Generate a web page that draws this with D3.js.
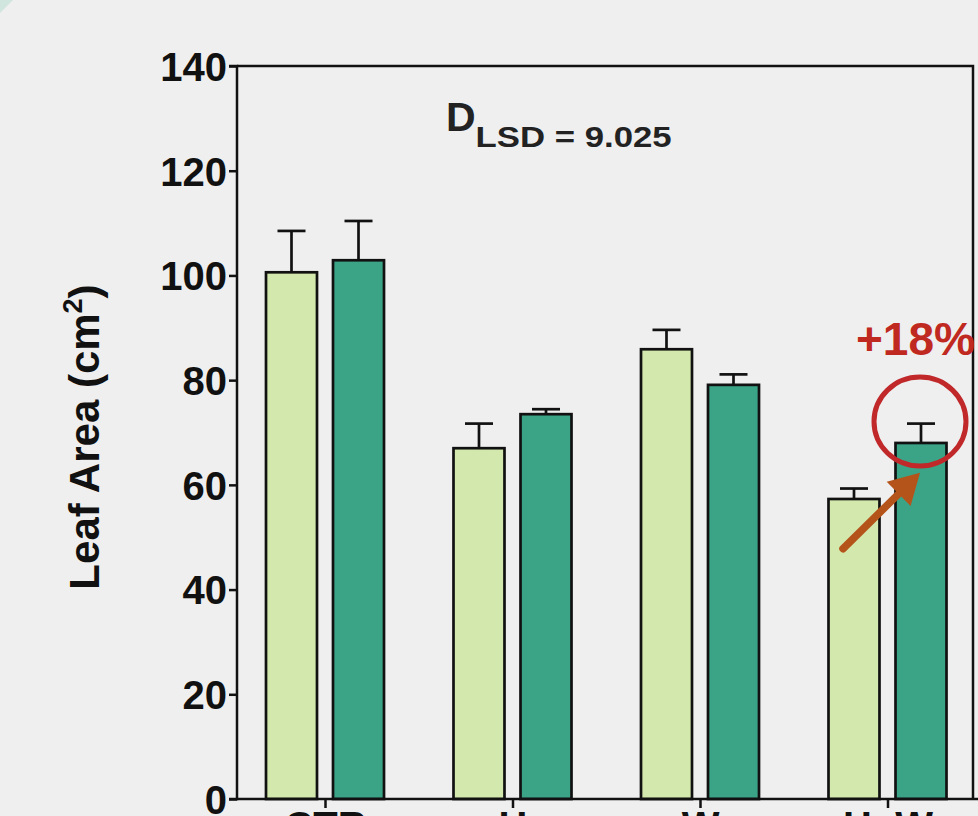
<!DOCTYPE html>
<html>
<head>
<meta charset="utf-8">
<script src="https://cdn.jsdelivr.net/npm/d3@7"></script>
<style>
  html, body { margin: 0; padding: 0; background: #efefef; }
  svg { display: block; }
  text { font-family: "Liberation Sans", Arial, Helvetica, sans-serif; font-weight: bold; }
</style>
</head>
<body>
<svg id="chart" width="978" height="816"></svg>
<script>
const categories = ["CTR", "H", "W", "H+W"];
const seriesNames = ["Group 1", "Group 2"];
const valuesLight = [100.6, 67.0, 85.9, 57.3];
const errorsLight = [7.9, 4.7, 3.7, 2.0];
const valuesDark = [102.9, 73.5, 79.1, 68.0];
const errorsDark = [7.5, 0.95, 2.0, 3.7];
const yTicks = [0, 20, 40, 60, 80, 100, 120, 140];
const yLabel = "Leaf Area (cm";
const lsdValue = "9.025";
const changeLabel = "+18%";

(function () {
const svg = d3.select("#chart");
const W = 978, H = 816;
svg.append("rect").attr("width", W).attr("height", H).attr("fill", "#efefef");
svg.append("path").attr("d", "M0,0 L13,0 L0,13 Z").attr("fill", "#cfe5dd");

const pLeft = 237, pRight = 973, pTop = 66, pBottom = 799;
const y = d3.scaleLinear().domain([0, 140]).range([pBottom, pTop]);
const x = d3.scalePoint().domain(categories).range([325, 887.5]);
const inner = d3.scaleBand().domain(seriesNames).range([-59, 59]).paddingInner(0.239);
const colors = { "Group 1": "#d3e8ac", "Group 2": "#3ba386" };

const data = [];
categories.forEach((c, i) => {
  data.push({ cat: c, s: seriesNames[0], v: valuesLight[i], e: errorsLight[i] });
  data.push({ cat: c, s: seriesNames[1], v: valuesDark[i], e: errorsDark[i] });
});

svg.append("path")
  .attr("d", `M${pLeft},${pTop} H${pRight} V${pBottom}`)
  .attr("fill", "none").attr("stroke", "#111").attr("stroke-width", 2.5);

svg.append("g").selectAll("rect").data(data).join("rect")
  .attr("x", d => x(d.cat) + inner(d.s))
  .attr("y", d => y(d.v))
  .attr("width", inner.bandwidth())
  .attr("height", d => y(0) - y(d.v))
  .attr("fill", d => colors[d.s])
  .attr("stroke", "#111").attr("stroke-width", 2.7);

const eb = svg.append("g").attr("stroke", "#111").attr("stroke-width", 2.7);
data.forEach(d => {
  const cx = x(d.cat) + inner(d.s) + inner.bandwidth() / 2;
  eb.append("line").attr("x1", cx).attr("x2", cx).attr("y1", y(d.v)).attr("y2", y(d.v + d.e));
  eb.append("line").attr("x1", cx - 14).attr("x2", cx + 14).attr("y1", y(d.v + d.e)).attr("y2", y(d.v + d.e));
});

const yAxis = d3.axisLeft(y).tickValues(yTicks).tickSize(8).tickPadding(2).tickFormat(d3.format("d"));
const gy = svg.append("g").attr("transform", `translate(${pLeft},0)`).call(yAxis);
gy.select(".domain").attr("stroke", "#111").attr("stroke-width", 2.5).attr("d", `M-8,${pBottom}H0V${pTop}H-8`);
gy.selectAll(".tick line").attr("stroke", "#111").attr("stroke-width", 2.5);
gy.selectAll(".tick text").attr("fill", "#111").attr("font-size", 40).attr("dy", "0.36em")
  .attr("font-family", "Liberation Sans, Arial, sans-serif").attr("font-weight", "bold");

const xAxis = d3.axisBottom(x).tickSize(9).tickPadding(4);
const gx = svg.append("g").attr("transform", `translate(0,${pBottom})`).call(xAxis);
gx.select(".domain").attr("stroke", "#111").attr("stroke-width", 2.5).attr("d", `M${pLeft},0H${W}`);
gx.selectAll(".tick line").attr("stroke", "#111").attr("stroke-width", 2.5);
gx.selectAll(".tick text").attr("fill", "#111").attr("font-size", 40)
  .attr("font-family", "Liberation Sans, Arial, sans-serif").attr("font-weight", "bold");

const yl = svg.append("text")
  .attr("transform", `translate(99,437) rotate(-90)`)
  .attr("text-anchor", "middle").attr("font-size", 42).attr("fill", "#111");
yl.append("tspan").text(yLabel);
yl.append("tspan").attr("font-size", 27).attr("dy", -17).text("2");
yl.append("tspan").attr("dy", 17).text(")");

const dl = svg.append("text").attr("x", 446).attr("y", 131).attr("fill", "#222").attr("font-size", 41);
dl.append("tspan").text("D");
dl.append("tspan").attr("font-size", 29).attr("dy", 16).attr("textLength", 196).attr("lengthAdjust", "spacingAndGlyphs").text("LSD = " + lsdValue);

svg.append("text").attr("x", 856).attr("y", 355).attr("fill", "#c0291f").attr("font-size", 46).text(changeLabel);

const hw = categories[3];
const lightC = x(hw) + inner(seriesNames[0]) + inner.bandwidth() / 2;
const darkC = x(hw) + inner(seriesNames[1]) + inner.bandwidth() / 2;
const ax1 = lightC - 11, ay1 = y(47.8), ax2 = darkC - 1, ay2 = y(62.3);
const ang = Math.atan2(ay2 - ay1, ax2 - ax1);
const hl = 30, hwid = 17;
const bx = ax2 - hl * Math.cos(ang), by = ay2 - hl * Math.sin(ang);
svg.append("line").attr("x1", ax1).attr("y1", ay1).attr("x2", bx).attr("y2", by)
  .attr("stroke", "#b5541a").attr("stroke-width", 7.5).attr("stroke-linecap", "round");
svg.append("path")
  .attr("d", `M${ax2},${ay2} L${bx + hwid * Math.sin(ang)},${by - hwid * Math.cos(ang)} L${bx - hwid * Math.sin(ang)},${by + hwid * Math.cos(ang)} Z`)
  .attr("fill", "#b5541a");

svg.append("ellipse").attr("cx", darkC - 1).attr("cy", y(valuesDark[3] + errorsDark[3]) - 2)
  .attr("rx", 46).attr("ry", 44.5)
  .attr("fill", "none").attr("stroke", "#c0282a").attr("stroke-width", 5);
})();
</script>
</body>
</html>
